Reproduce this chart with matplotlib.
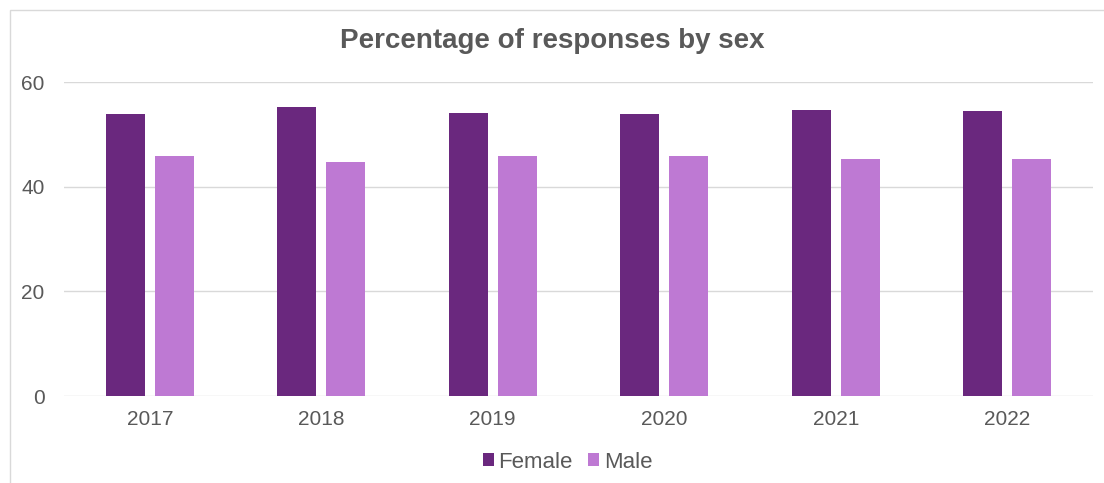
import matplotlib.pyplot as plt
import numpy as np
from matplotlib.patches import Rectangle

years = ['2017', '2018', '2019', '2020', '2021', '2022']
female = [53.9, 55.2, 54.0, 53.9, 54.6, 54.5]
male = [45.9, 44.7, 45.8, 45.9, 45.3, 45.3]

plt.rcParams['font.family'] = ['Liberation Sans', 'DejaVu Sans']
text_col = '#595959'

fig = plt.figure(figsize=(11.04, 4.83), dpi=100)
ax = fig.add_axes([64 / 1104, 1 - 396 / 483, 1029 / 1104, 314 / 483])

# chart frame
fig.patches.append(Rectangle((10 / 1104, -0.01), 1.1, 1 - 10 / 483 + 0.01,
                             transform=fig.transFigure, fill=False,
                             edgecolor='#D9D9D9', linewidth=1))

x = np.arange(len(years))
w = 0.227
ax.bar(x - 0.142, female, w, color='#6A287E', label='Female', zorder=3)
ax.bar(x + 0.143, male, w, color='#BE79D3', label='Male', zorder=3)

ax.set_xlim(-0.5, len(years) - 0.5)
ax.set_ylim(0, 60)
ax.set_yticks([0, 20, 40, 60])
ax.set_xticks(x)
ax.set_xticklabels(years)
ax.grid(axis='y', color='#D9D9D9', linewidth=1, zorder=0)
for s in ['top', 'right', 'left', 'bottom']:
    ax.spines[s].set_visible(False)
ax.tick_params(length=0, labelsize=15, colors=text_col)
ax.tick_params(axis='y', pad=14)
ax.tick_params(axis='x', pad=10)

fig.text(0.5, 1 - 41 / 483, 'Percentage of responses by sex', ha='center', va='center',
         fontsize=20, fontweight='bold', color=text_col)

fig.legend(loc='center', bbox_to_anchor=(0.514, 1 - 462 / 483), ncol=2, frameon=False,
           fontsize=16, labelcolor=text_col, handlelength=0.5, handleheight=0.5,
           handletextpad=0.2, columnspacing=0.7)

fig.savefig('out.png', dpi=100)
